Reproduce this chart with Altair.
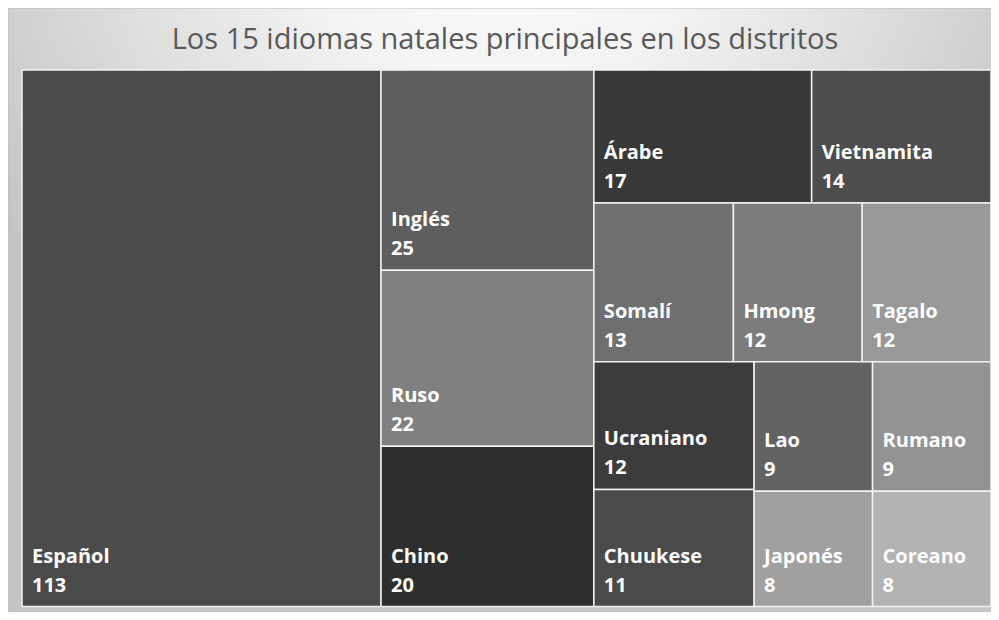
import altair as alt
import pandas as pd

# ---- data ----
LANGS = ["Español", "Inglés", "Ruso", "Chino", "Árabe", "Vietnamita", "Somalí",
         "Hmong", "Tagalo", "Ucraniano", "Chuukese", "Lao", "Rumano", "Japonés", "Coreano"]
COUNTS = [113, 25, 22, 20, 17, 14, 13, 12, 12, 12, 11, 9, 9, 8, 8]
TITLE = "Los 15 idiomas natales principales en los distritos"

# ---- styles ----
COLORS = ["#4b4b4b", "#5e5e5e", "#808080", "#2e2e2e", "#383838", "#4d4d4d", "#6f6f6f",
          "#7c7c7c", "#999999", "#3c3c3c", "#4a4a4a", "#636363", "#939393", "#a0a0a0", "#b3b3b3"]

W, H = 983, 604
PX0, PX1 = 14, 983
PY0, PY1 = 62, 598.5
TW, TH = PX1 - PX0, PY1 - PY0


def aspect(a, b):
    return max(a / b, b / a)


def treemap(vals, x, y, w, h):
    """Squarified-style layout (strip grows while the new item's aspect improves)."""
    out = []
    i, n = 0, len(vals)
    while i < n:
        rest = sum(vals[i:])
        vertical = w >= h

        def last_aspect(j):
            s = sum(vals[i:j + 1])
            if vertical:
                return aspect(s / rest * w, vals[j] / s * h)
            return aspect(vals[j] / s * w, s / rest * h)

        j = i
        while j + 1 < n and last_aspect(j + 1) < last_aspect(j):
            j += 1
        strip = vals[i:j + 1]
        s = sum(strip)
        if vertical:
            sw = s / rest * w
            cy = y
            for v in strip:
                ih = v / s * h
                out.append((x, cy, x + sw, cy + ih))
                cy += ih
            x += sw
            w -= sw
        else:
            sh = s / rest * h
            cx = x
            for v in strip:
                iw = v / s * w
                out.append((cx, y, cx + iw, y + sh))
                cx += iw
            y += sh
            h -= sh
        i = j + 1
    return out


rects = treemap(COUNTS, 0, 0, TW, TH)
df = pd.DataFrame({
    "lang": LANGS,
    "count": COUNTS,
    "x0": [r[0] for r in rects],
    "y0": [r[1] for r in rects],
    "x1": [r[2] for r in rects],
    "y1": [r[3] for r in rects],
})

xs = alt.Scale(domain=[0, TW], range=[PX0, PX1], nice=False, zero=False)
ys = alt.Scale(domain=[0, TH], range=[PY0, PY1], nice=False, zero=False)

gradient = {
    "gradient": "radial",
    "x1": 0.5, "y1": 0.05, "r1": 0,
    "x2": 0.5, "y2": 0.05, "r2": 0.62,
    "stops": [
        {"offset": 0, "color": "#ffffff"},
        {"offset": 0.35, "color": "#f4f4f4"},
        {"offset": 1, "color": "#c4c4c4"},
    ],
}

bg = alt.Chart(pd.DataFrame({"a": [0]})).mark_rect(
    fill=gradient, stroke="#bdbdbd", strokeWidth=1
).encode(x=alt.value(0), x2=alt.value(W + 4), y=alt.value(0), y2=alt.value(H + 4))

title = alt.Chart(pd.DataFrame({"t": [TITLE]})).mark_text(
    align="center", baseline="alphabetic", font="Open Sans", fontSize=29, color="#595959"
).encode(x=alt.value(497), y=alt.value(41), text="t:N")

base = alt.Chart(df)

tiles = base.mark_rect(stroke="#f2f2f2", strokeWidth=1.5).encode(
    x=alt.X("x0:Q", scale=xs, axis=None),
    x2="x1:Q",
    y=alt.Y("y0:Q", scale=ys, axis=None),
    y2="y1:Q",
    color=alt.Color("lang:N", scale=alt.Scale(domain=LANGS, range=COLORS), legend=None),
)

names = base.mark_text(
    align="left", baseline="alphabetic", dx=10, dy=-44,
    font="Open Sans", fontSize=20, fontWeight="bold", color="white"
).encode(
    x=alt.X("x0:Q", scale=xs, axis=None),
    y=alt.Y("y1:Q", scale=ys, axis=None),
    text="lang:N",
)

values = base.mark_text(
    align="left", baseline="alphabetic", dx=10, dy=-15,
    font="Open Sans", fontSize=20, fontWeight="bold", color="white"
).encode(
    x=alt.X("x0:Q", scale=xs, axis=None),
    y=alt.Y("y1:Q", scale=ys, axis=None),
    text="count:Q",
)

chart = alt.layer(bg, title, tiles, names, values).properties(
    width=W, height=H, padding=0,
    autosize=alt.AutoSizeParams(type="none"),
    background="white",
).configure_view(stroke=None)

chart.save("out.html", embed_options={"renderer": "svg", "actions": False})
